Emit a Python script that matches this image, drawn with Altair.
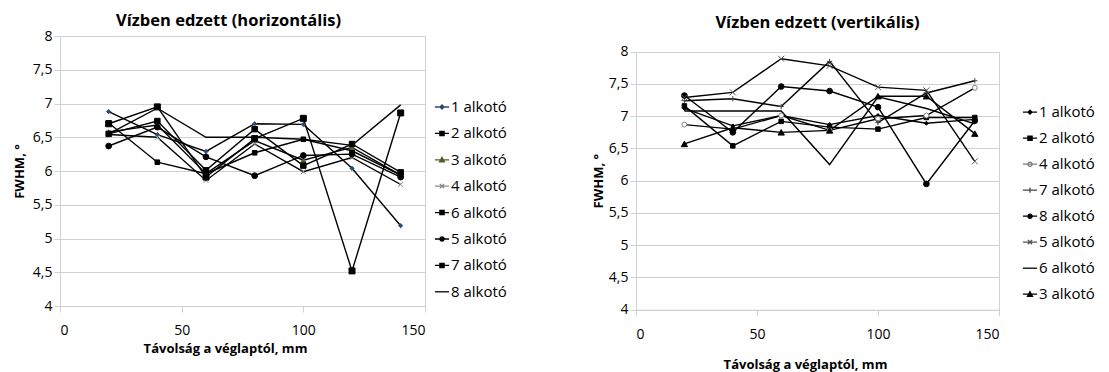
import altair as alt
import pandas as pd

# ---------------- data ----------------
x_mm = [20, 40, 60, 80, 100, 120, 140]

h_names = ["1 alkotó", "2 alkotó", "3 alkotó", "4 alkotó", "6 alkotó", "5 alkotó", "7 alkotó", "8 alkotó"]
h1 = [6.88, 6.54, 6.29, 6.70, 6.69, 6.04, 5.19]
h2 = [6.71, 6.13, 5.96, 6.27, 6.47, 6.30, 5.94]
h3 = [6.58, 6.68, 5.96, 6.45, 6.16, 6.35, 5.94]
h4 = [6.54, 6.50, 5.86, 6.40, 5.99, 6.20, 5.80]
h6 = [6.55, 6.74, 6.01, 6.62, 6.08, 6.40, 5.98]
h5 = [6.37, 6.65, 6.21, 5.93, 6.23, 6.25, 5.91]
h7 = [6.70, 6.95, 5.91, 6.48, 6.78, 4.52, 6.86]
h8 = [6.55, 6.93, 6.50, 6.50, 6.47, 6.38, 6.98]
h_vals = [h1, h2, h3, h4, h6, h5, h7, h8]

v_names = ["1 alkotó", "2 alkotó", "4 alkotó", "7 alkotó", "8 alkotó", "5 alkotó", "6 alkotó", "3 alkotó"]
v1 = [7.12, 6.85, 7.01, 6.87, 7.01, 6.89, 6.95]
v2 = [7.16, 6.54, 6.92, 6.83, 6.80, 6.98, 6.98]
v4 = [6.87, 6.80, 7.01, 6.78, 6.96, 7.01, 7.44]
v7 = [7.24, 7.27, 7.15, 7.85, 6.90, 7.36, 7.55]
v8 = [7.32, 6.75, 7.46, 7.39, 7.14, 5.95, 6.93]
v5 = [7.29, 7.37, 7.89, 7.78, 7.45, 7.40, 6.30]
v6 = [7.08, 7.08, 7.08, 6.25, 7.30, 7.12, 6.88]
v3 = [6.57, 6.82, 6.75, 6.78, 7.31, 7.31, 6.73]
v_vals = [v1, v2, v4, v7, v8, v5, v6, v3]

y_ticks = [4, 4.5, 5, 5.5, 6, 6.5, 7, 7.5, 8]
x_ticks = [0, 50, 100, 150]

# ---------------- styles ----------------
FONT = "Open Sans"
GRID = "#d0d0d0"
LINE = "M-1,0H1"
SHAPES = {
    "diamond": ("diamond", "M-0.28,0L0,-0.28L0.28,0L0,0.28Z"),
    "square": ("square", "M-0.3,-0.3H0.3V0.3H-0.3Z"),
    "triangle": ("triangle-up", "M0,-0.35L0.35,0.3H-0.35Z"),
    "x": ("M-1,-1L1,1M-1,1L1,-1", "M-0.3,-0.3L0.3,0.3M-0.3,0.3L0.3,-0.3"),
    "plus": ("M-1,0H1M0,-1V1", "M0,-0.35V0.35"),
    "circle": ("circle", "M-0.3,0A0.3,0.3 0 1,0 0.3,0A0.3,0.3 0 1,0 -0.3,0Z"),
    "none": (None, ""),
}

# marker, fill, stroke, size
h_style = {
    "1 alkotó": ("diamond", "#2c4a78", "#2c4a78", 18),
    "2 alkotó": ("square", "black", "black", 36),
    "3 alkotó": ("triangle", "#4f6228", "#4f6228", 16),
    "4 alkotó": ("x", "none", "#8c8c8c", 22),
    "6 alkotó": ("square", "black", "black", 40),
    "5 alkotó": ("circle", "black", "black", 30),
    "7 alkotó": ("square", "black", "black", 60),
    "8 alkotó": ("none", "black", "black", 0),
}
v_style = {
    "1 alkotó": ("diamond", "black", "black", 16),
    "2 alkotó": ("square", "black", "black", 40),
    "4 alkotó": ("circle", "white", "#7f7f7f", 36),
    "7 alkotó": ("plus", "none", "#444444", 60),
    "8 alkotó": ("circle", "black", "black", 40),
    "5 alkotó": ("x", "none", "#555555", 40),
    "6 alkotó": ("none", "black", "black", 0),
    "3 alkotó": ("triangle", "black", "black", 30),
}


def to_df(names, vals):
    rows = []
    for n, v in zip(names, vals):
        for xx, yy in zip(x_mm, v):
            rows.append({"series": n, "x": xx, "y": yy})
    return pd.DataFrame(rows)


def panel(names, vals, style, title, w, h, top_gap, leg_x, leg_y, row_pad,
          x_title_pad, x_label_pad, x_title_x, y_title_pad):
    df = to_df(names, vals)
    marked = [n for n in names if style[n][0] != "none"]
    total_h = h + top_gap
    y_scale = alt.Scale(domain=[4, 8], nice=False, zero=False, range=[total_h, top_gap])

    x_enc = alt.X("x:Q", scale=alt.Scale(domain=[0, 150], nice=False),
                  axis=alt.Axis(values=x_ticks, grid=False, title="Távolság a véglaptól, mm",
                                titlePadding=x_title_pad, labelPadding=x_label_pad, titleX=x_title_x))
    y_enc = alt.Y("y:Q", scale=y_scale,
                  axis=alt.Axis(values=y_ticks, title="FWHM, °", titlePadding=y_title_pad,
                                labelExpr="replace(format(datum.value, '.1~f'), '.', ',')"))

    base = alt.Chart(df)
    lines = base.mark_line(color="black", strokeWidth=1.4).encode(
        x=x_enc, y=y_enc, detail="series:N", order="x:Q")

    points = base.transform_filter(
        alt.FieldOneOfPredicate(field="series", oneOf=marked)
    ).mark_point(filled=False, strokeWidth=1, opacity=1).encode(
        x=x_enc, y=y_enc,
        shape=alt.Shape("series:N", scale=alt.Scale(domain=marked, range=[SHAPES[style[n][0]][0] for n in marked]), legend=None),
        fill=alt.Fill("series:N", scale=alt.Scale(domain=marked, range=[style[n][1] for n in marked]), legend=None),
        stroke=alt.Stroke("series:N", scale=alt.Scale(domain=marked, range=[style[n][2] for n in marked]), legend=None),
        size=alt.Size("series:O", scale=alt.Scale(domain=marked, range=[style[n][3] for n in marked]), legend=None),
    )

    leg_paths = [LINE + SHAPES[style[n][0]][1] for n in names]
    leg_fill = [style[n][1] if style[n][1] != "none" else "transparent" for n in names]
    leg_stroke = [style[n][2] for n in names]
    legend = alt.Legend(title=None, orient="none", legendX=leg_x, legendY=leg_y,
                        labelFont=FONT, labelFontSize=15, labelColor="black",
                        symbolSize=200, symbolStrokeWidth=1.3, rowPadding=row_pad,
                        labelOffset=1, padding=0)
    legend_layer = base.transform_filter("false").mark_point(opacity=1, filled=False).encode(
        x=x_enc, y=y_enc,
        shape=alt.Shape("series:N", scale=alt.Scale(domain=names, range=leg_paths), legend=legend),
        fill=alt.Fill("series:N", scale=alt.Scale(domain=names, range=leg_fill), legend=legend),
        stroke=alt.Stroke("series:N", scale=alt.Scale(domain=names, range=leg_stroke), legend=legend),
    )

    inner = alt.layer(lines, points, legend_layer).resolve_scale(
        shape="independent", fill="independent", stroke="independent", size="independent")

    # right-hand frame line of the plot area, drawn as a bare right axis
    frame = base.transform_filter("false").mark_point(opacity=0).encode(
        x=x_enc,
        y=alt.Y("y:Q", scale=y_scale,
                axis=alt.Axis(orient="right", labels=False, ticks=False, grid=False, title=None,
                              domainColor=GRID)),
    )

    return alt.layer(inner, frame).resolve_scale(y="independent").properties(
        width=w, height=total_h, title=title)


left = panel(h_names, h_vals, h_style,
             alt.TitleParams("Vízben edzett (horizontális)", fontSize=16.5, font=FONT, fontWeight="bold",
                             offset=0, dx=-14),
             365, 270, 0, 374, 63, 10.4, 5, 11, 165, 6)
right = panel(v_names, v_vals, v_style,
              alt.TitleParams("Vízben edzett (vertikális)", fontSize=16.5, font=FONT, fontWeight="bold",
                              offset=4.6),
              363, 258, 15.7, 386, 68.2, 10, 17, 12, 169, 3)

chart = alt.concat(left, right, columns=2, spacing=85).properties(
    padding={"left": 5, "top": 4, "right": 0, "bottom": 0}
).configure_view(
    stroke=None
).configure_axis(
    labelFont=FONT, labelFontSize=14, labelColor="black",
    titleFont=FONT, titleFontSize=13, titleFontWeight="bold", titleColor="black",
    gridColor=GRID, gridWidth=1, domainColor=GRID, tickColor=GRID, tickSize=6,
).configure_title(color="black")

chart.save("out.html", embed_options={"renderer": "svg", "actions": False})
